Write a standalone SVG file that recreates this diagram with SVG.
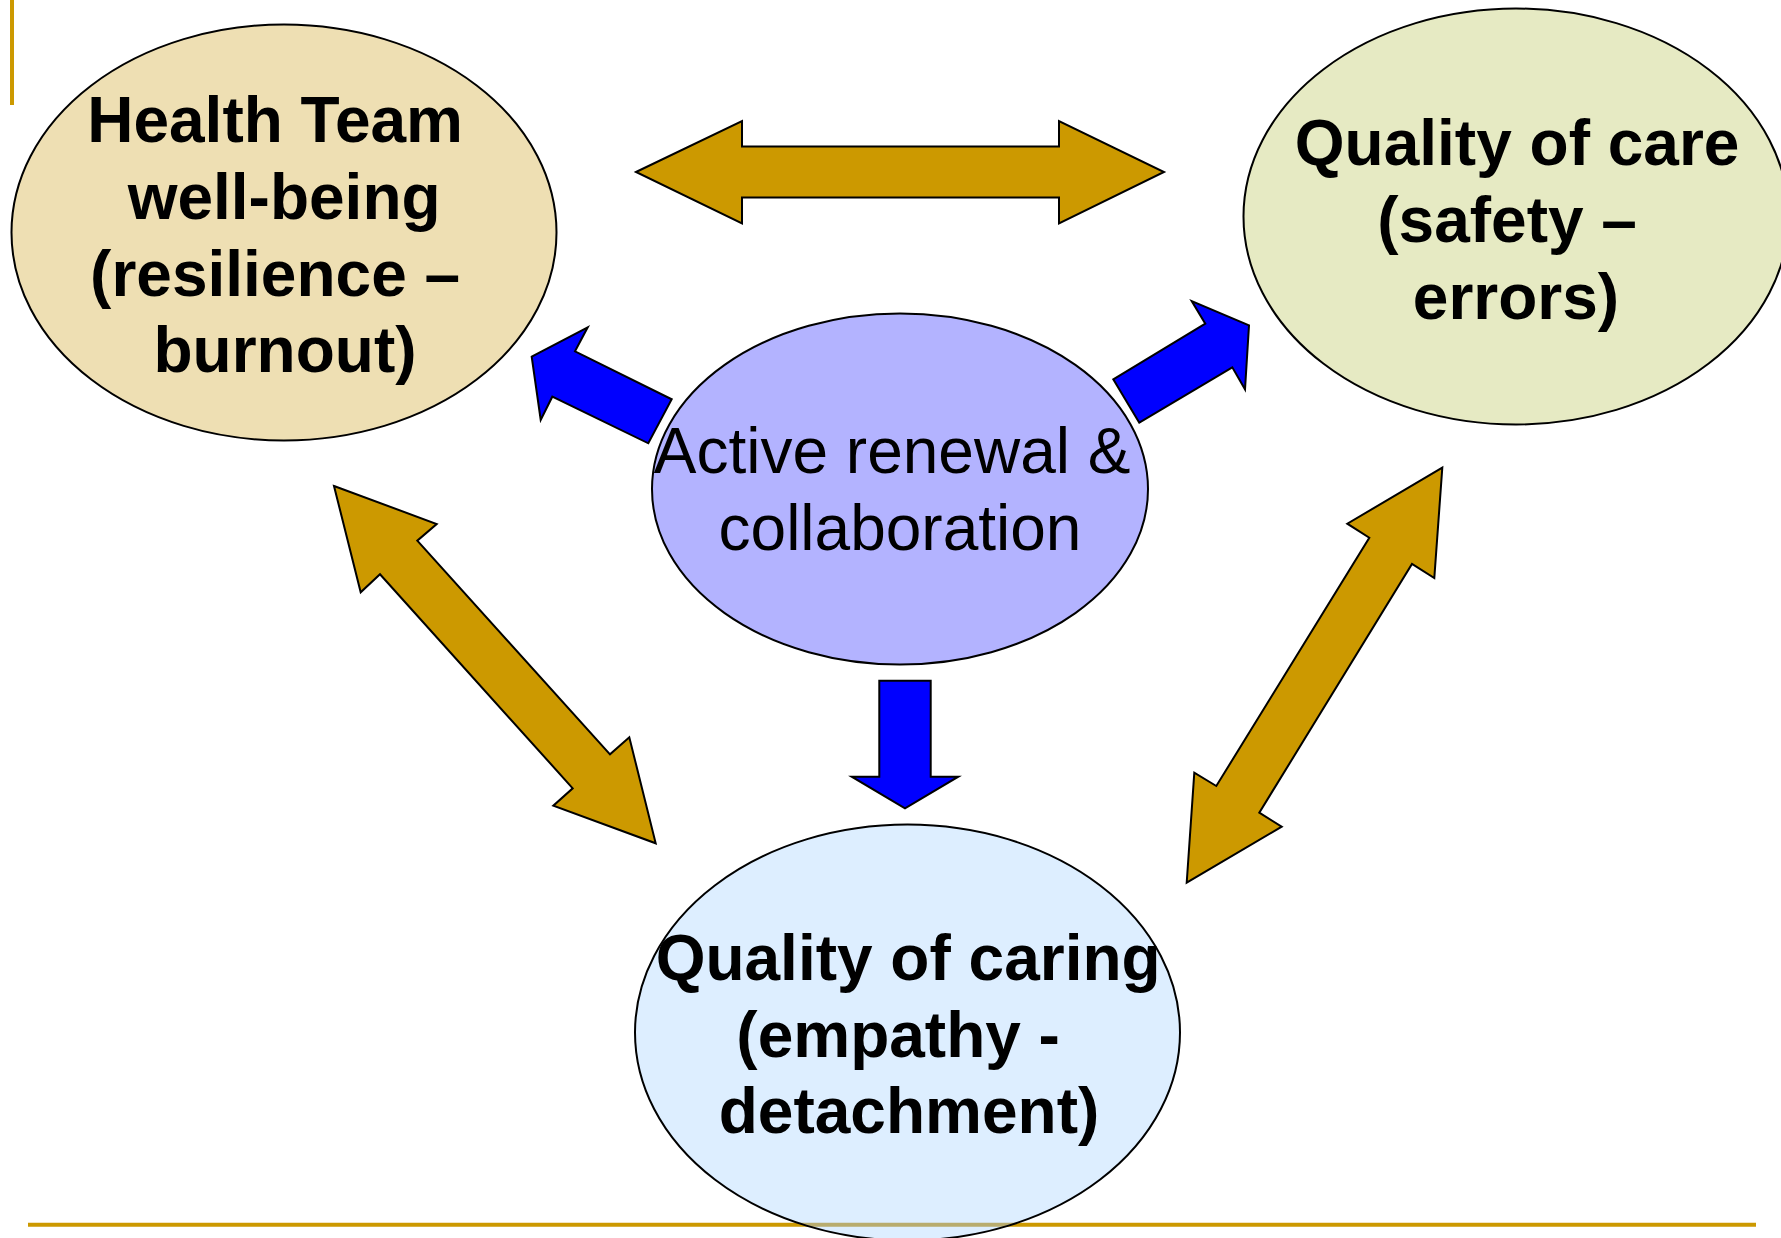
<svg xmlns="http://www.w3.org/2000/svg" width="1781" height="1238" viewBox="0 0 1781 1238">
  <style>
    .node { stroke: #000; stroke-width: 2; }
    .outline { fill: none; stroke: #000; stroke-width: 2; }
    .label { font-family: "Liberation Sans", Arial, sans-serif; font-size: 64px; fill: #000; text-anchor: middle; }
    .bold { font-weight: bold; }
    .gold { fill: #cc9900; stroke: #000; stroke-width: 2; stroke-linejoin: miter; }
    .blue { fill: #0000ff; stroke: #000; stroke-width: 2; stroke-linejoin: miter; }
    .rule { stroke: #cc9900; stroke-width: 4; }
  </style>
  <defs>
    <clipPath id="caringClip">
      <ellipse cx="907.5" cy="1032.5" rx="272.5" ry="208"/>
    </clipPath>
  </defs>

  <rect width="1781" height="1238" fill="#ffffff"/>

  <!-- slide frame rules -->
  <g id="frame">
    <line class="rule" x1="12" y1="0" x2="12" y2="105"/>
    <line class="rule" x1="28" y1="1224.7" x2="1756" y2="1224.7"/>
  </g>

  <!-- nodes -->
  <g id="node-wellbeing">
    <ellipse class="node" cx="284" cy="232.5" rx="272.5" ry="208" fill="#eedfb3"/>
    <text class="label bold">
      <tspan x="284" y="142">Health Team</tspan>
      <tspan x="293" y="219">well-being</tspan>
      <tspan x="284" y="296">(resilience –</tspan>
      <tspan x="285" y="372">burnout)</tspan>
    </text>
  </g>

  <g id="node-care">
    <ellipse class="node" cx="1516" cy="216.5" rx="272.5" ry="208" fill="#e6eac3"/>
    <text class="label bold">
      <tspan x="1526" y="165">Quality of care</tspan>
      <tspan x="1516" y="242">(safety –</tspan>
      <tspan x="1516" y="319">errors)</tspan>
    </text>
  </g>

  <g id="node-renewal">
    <ellipse class="node" cx="900" cy="489" rx="248" ry="175.5" fill="#b3b3ff"/>
    <text class="label">
      <tspan x="901" y="473">Active renewal &amp;</tspan>
      <tspan x="900" y="550">collaboration</tspan>
    </text>
  </g>

  <g id="node-caring">
    <ellipse cx="907.5" cy="1032.5" rx="272.5" ry="208" fill="#ddeeff"/>
    <line x1="600" y1="1224.7" x2="1220" y2="1224.7" stroke="#a89030" stroke-width="4" stroke-opacity="0.7" clip-path="url(#caringClip)"/>
    <ellipse class="outline" cx="907.5" cy="1032.5" rx="272.5" ry="208"/>
    <text class="label bold">
      <tspan x="917" y="980">Quality of caring</tspan>
      <tspan x="907" y="1057">(empathy -</tspan>
      <tspan x="909" y="1133">detachment)</tspan>
    </text>
  </g>

  <!-- connectors: block arrows -->
  <g id="connectors">
    <polygon class="gold" points="636,172 742,121 742,146.5 1059,146.5 1059,121 1164,172 1059,223.5 1059,197.5 742,197.5 742,223.5"/>
    <polygon class="gold" points="334,486 436.7,524 417.3,540.7 610,754.3 629.3,737.3 655.7,843.3 553.3,805.7 572.7,788.3 380,574.3 360.7,592.3"/>
    <polygon class="gold" points="1442.3,467.7 1434.3,578 1412,564 1259.3,812.7 1281.7,826.7 1186.7,882.7 1194.3,772.7 1216.3,786 1369.3,537.7 1347.3,523.7"/>
    <polygon class="blue" points="531.7,356.7 587.7,327.3 575,351.3 671.7,399.3 648.3,443.3 552.3,396.7 540.7,420"/>
    <polygon class="blue" points="1139.3,422.7 1113.3,379.3 1205.3,323.7 1191.7,301 1249,325.3 1245,389.3 1232.3,367.3"/>
    <polygon class="blue" points="879.3,680.7 930.7,680.7 930.7,776.7 958.3,776.7 905,808.3 851.7,776.7 879.3,776.7"/>
  </g>
</svg>
